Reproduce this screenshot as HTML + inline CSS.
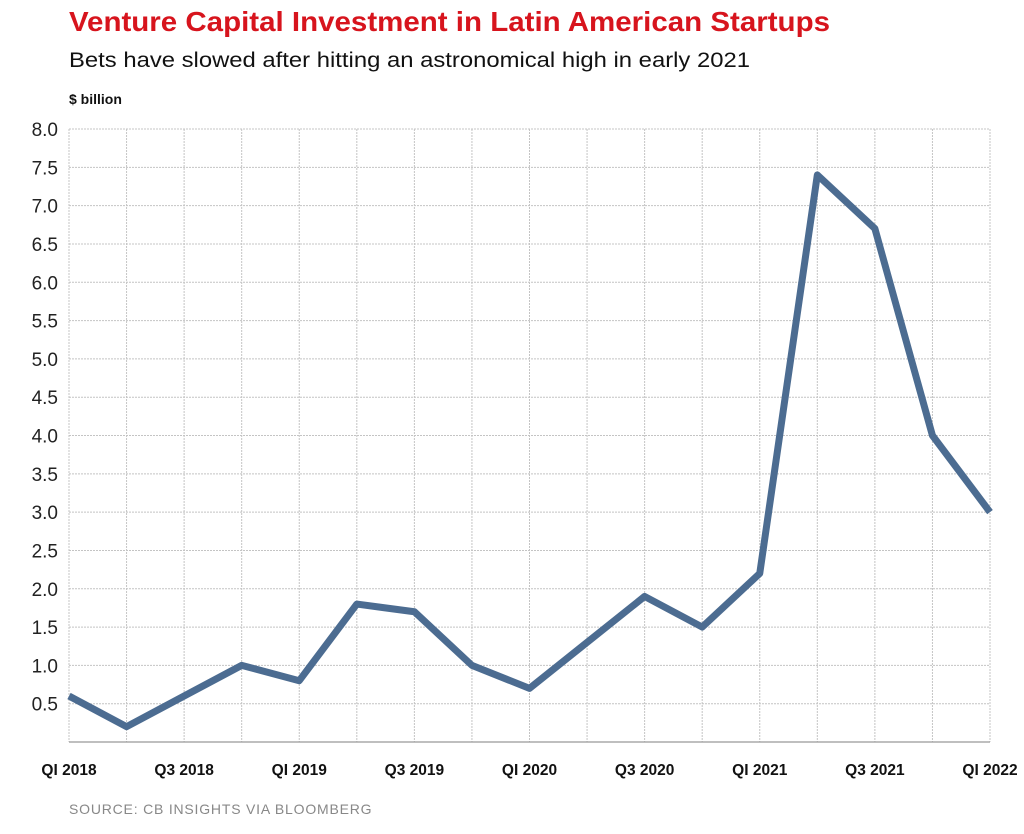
<!DOCTYPE html>
<html><head><meta charset="utf-8"><style>
body{margin:0;background:#fff;width:1024px;height:829px;overflow:hidden;font-family:"Liberation Sans",sans-serif}
</style></head><body>
<svg width="1024" height="829">
<text x="69" y="31" font-size="28" font-weight="bold" fill="#d7141d" textLength="761" lengthAdjust="spacingAndGlyphs">Venture Capital Investment in Latin American Startups</text>
<text x="69" y="67" font-size="21" fill="#111" textLength="681" lengthAdjust="spacingAndGlyphs">Bets have slowed after hitting an astronomical high in early 2021</text>
<text x="69" y="104" font-size="14" font-weight="bold" fill="#111">$ billion</text>
<text x="69" y="814" font-size="14" fill="#888" letter-spacing="0.8">SOURCE: CB INSIGHTS VIA BLOOMBERG</text>
<g id="grid"></g><g id="labels"></g><g id="series"></g>
</svg>
<script>
const categories=["Q1 2018","Q2 2018","Q3 2018","Q4 2018","Q1 2019","Q2 2019","Q3 2019","Q4 2019","Q1 2020","Q2 2020","Q3 2020","Q4 2020","Q1 2021","Q2 2021","Q3 2021","Q4 2021","Q1 2022"];
const values=[0.6,0.2,0.6,1.0,0.8,1.8,1.7,1.0,0.7,1.3,1.9,1.5,2.2,7.4,6.7,4.0,3.0];
const yTicks=[0.5,1.0,1.5,2.0,2.5,3.0,3.5,4.0,4.5,5.0,5.5,6.0,6.5,7.0,7.5,8.0];
const xLabels=["QI 2018","Q3 2018","QI 2019","Q3 2019","QI 2020","Q3 2020","QI 2021","Q3 2021","QI 2022"];
const NS="http://www.w3.org/2000/svg";
const x0=69,x1=990,yBase=742,yTop=129,yMax=8;
function xs(i){return x0+(x1-x0)*i/(categories.length-1);}
function ys(v){return yBase-(yBase-yTop)*v/yMax;}
function mk(t,a,p){const e=document.createElementNS(NS,t);for(const k in a)e.setAttribute(k,a[k]);p.appendChild(e);return e;}
const g=document.getElementById('grid'),lb=document.getElementById('labels'),sr=document.getElementById('series');
categories.forEach((c,i)=>{const l=mk('line',{x1:xs(i),x2:xs(i),y1:yTop,y2:yBase,stroke:'#c4c4c4','stroke-width':1,'stroke-dasharray':'2,1'},g);

});
yTicks.forEach(v=>{const l=mk('line',{x1:x0,x2:x1,y1:ys(v),y2:ys(v),stroke:'#c4c4c4','stroke-width':1,'stroke-dasharray':'2,1'},g);


const t=mk('text',{x:58,y:ys(v)+7,'text-anchor':'end','font-size':19,fill:'#222'},lb);t.textContent=v.toFixed(1);

});
const base=mk('line',{x1:x0,x2:x1,y1:yBase,y2:yBase,stroke:'#999','stroke-width':1.2},g);


xLabels.forEach((s,j)=>{const t=mk('text',{x:xs(j*2),y:775,'text-anchor':'middle','font-size':15.5,'font-weight':'bold',fill:'#111'},lb);t.textContent=s;

});
const pts=values.map((v,i)=>xs(i)+','+ys(v)).join(' ');
const pl=mk('polyline',{points:pts,fill:'none',stroke:'#4c6c91','stroke-width':7,'stroke-linejoin':'round','stroke-linecap':'butt'},sr);


</script>
</body></html>
